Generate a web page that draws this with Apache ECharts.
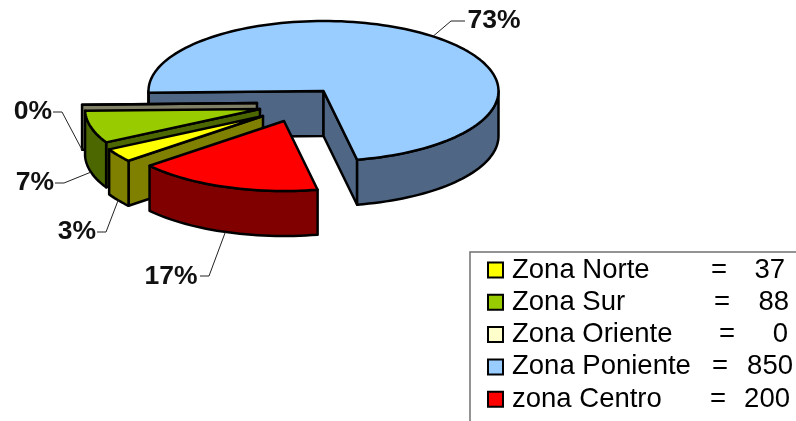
<!DOCTYPE html>
<html>
<head>
<meta charset="utf-8">
<style>html,body{margin:0;padding:0;background:#fff}#c{width:796px;height:421px}</style>
<script src="https://cdn.jsdelivr.net/npm/echarts@6/dist/echarts.min.js"></script>
</head>
<body>
<div id="c"></div>
<script>
// Data
const categories = ['Zona Norte', 'Zona Sur', 'Zona Oriente', 'Zona Poniente', 'zona Centro'];
const values = [37, 88, 0, 850, 200];
const percentLabels = ['3%', '7%', '0%', '73%', '17%'];

// Styles
const topColors = ['#FFFF00', '#99CC00', '#FFFFCC', '#99CCFF', '#FF0000'];
const wallColors = ['#808000', '#4C6600', '#808066', '#4F6785', '#800000'];

// Pie layout (3D projection and explosion of each slice)
const drawOrder = [3, 2, 1, 0, 4];
const pieRx = 175, pieRy = 70, pieDepth = 45;
const firstSliceAngle = 320.2;           // degrees clockwise from the left-hand side
const sliceCentres = [[263, 116], [260, 109], [257, 103], [323.5, 91], [284, 121]];
const labelElbows = [[106, 232], [64, 183], [62, 112], [451, 21], [209, 276]];
const labelPositions = [[77, 232, 'center'], [35, 183, 'center'], [33, 112, 'center'], [494, 21, 'center'], [171, 277, 'center']];

// Legend layout
const legendEqualX = [720, 723, 728, 721, 719];
const legendValueEnd = [785, 789, 788, 793, 790];
const legendTextX = 512;
const legendFontSize = 27.5;

const total = values.reduce((a, b) => a + b, 0);
const sliceStart = [];
let acc = firstSliceAngle;
values.forEach(v => { sliceStart.push(acc); acc += v / total * 360; });
const sliceEnd = values.map((v, i) => sliceStart[i] + v / total * 360);

function pt(c, deg, dy) {
  const r = deg * Math.PI / 180;
  return [c[0] - pieRx * Math.cos(r), c[1] - pieRy * Math.sin(r) + (dy || 0)];
}
function arc(c, a, b, dy) {
  const n = Math.max(1, Math.ceil(Math.abs(b - a) / 2));
  const out = [];
  for (let i = 0; i <= n; i++) out.push(pt(c, a + (b - a) * i / n, dy));
  return out;
}
function poly(points, fill) {
  return {
    type: 'polygon',
    shape: { points: points },
    style: { fill: fill, stroke: '#000', lineWidth: 2.5, lineJoin: 'round' },
    silent: true
  };
}
function renderSlice(idx) {
  const c = sliceCentres[idx], a = sliceStart[idx], b = sliceEnd[idx];
  const wall = wallColors[idx], top = topColors[idx];
  const kids = [];
  const c2 = [c[0], c[1] + pieDepth];
  // cut faces: only those turned towards the viewer
  if (pt(c, a)[0] < c[0]) kids.push(poly([c, pt(c, a), pt(c, a, pieDepth), c2], wall));
  if (pt(c, b)[0] > c[0]) kids.push(poly([c, pt(c, b), pt(c, b, pieDepth), c2], wall));
  // outer wall: only the part of the rim that faces the viewer
  for (let k = 0; k < 3; k++) {
    const f0 = Math.max(a, 180 + 360 * k), f1 = Math.min(b, 360 + 360 * k);
    if (f1 > f0) {
      kids.push(poly(arc(c, f0, f1).concat(arc(c, f1, f0, pieDepth)), wall));
    }
  }
  kids.push(poly([c].concat(arc(c, a, b)), top));
  // leader line and percentage label
  const mid = (a + b) / 2;
  const s = Math.sin(mid * Math.PI / 180);
  const anchor = pt(c, mid, s < 0 ? pieDepth : 0);
  const elbow = labelElbows[idx], lp = labelPositions[idx];
  const endX = elbow[0] + (lp[0] > elbow[0] ? 14 : -9);
  kids.push({
    type: 'polyline',
    shape: { points: [anchor, elbow, [endX, elbow[1]]] },
    style: { fill: 'none', stroke: '#222', lineWidth: 1 },
    silent: true
  });
  kids.push({
    type: 'text',
    style: {
      text: percentLabels[idx], x: lp[0], y: lp[1], align: lp[2], verticalAlign: 'middle',
      font: 'bold 26.5px "Liberation Sans", Arial, sans-serif', fill: '#111'
    },
    silent: true
  });
  return { type: 'group', children: kids };
}

const legendRich = {};
categories.forEach((n, i) => {
  const eqLeft = legendEqualX[i] - 9;
  legendRich['n' + i] = { width: eqLeft - legendTextX, padding: [0, 0, 0, 4], align: 'left', fontSize: legendFontSize, lineHeight: 24, color: '#000' };
  legendRich['e' + i] = { width: 16, align: 'left', fontSize: legendFontSize, lineHeight: 24, color: '#000' };
  legendRich['v' + i] = { width: legendValueEnd[i] - eqLeft - 16, align: 'right', fontSize: legendFontSize, lineHeight: 24, color: '#000' };
});

const chart = echarts.init(document.getElementById('c'), null, { renderer: 'canvas' });
chart.setOption({
  animation: false,
  backgroundColor: '#fff',
  textStyle: { fontFamily: '"Liberation Sans", Arial, sans-serif' },
  legend: {
    orient: 'vertical',
    left: 487,
    top: 256,
    height: 300,
    padding: 0,
    itemWidth: 15,
    itemHeight: 15,
    itemGap: 4.3,
    icon: 'rect',
    selectedMode: false,
    data: categories,
    itemStyle: { borderColor: '#000', borderWidth: 2 },
    textStyle: { fontSize: legendFontSize, color: '#000', rich: legendRich },
    formatter: name => {
      const i = categories.indexOf(name);
      return '{n' + i + '|' + name + '}{e' + i + '|=}{v' + i + '|' + values[i] + '}';
    }
  },
  graphic: [
    { type: 'polyline', silent: true,
      shape: { points: [[470, 421], [470, 252], [796, 252]] },
      style: { fill: 'none', stroke: '#707070', lineWidth: 1.5 } }
  ],
  series: drawOrder.map(idx => ({
    type: 'custom',
    name: categories[idx],
    coordinateSystem: 'none',
    silent: true,
    itemStyle: { color: topColors[idx] },
    data: [[values[idx]]],
    renderItem: () => renderSlice(idx)
  }))
});
</script>
</body>
</html>
